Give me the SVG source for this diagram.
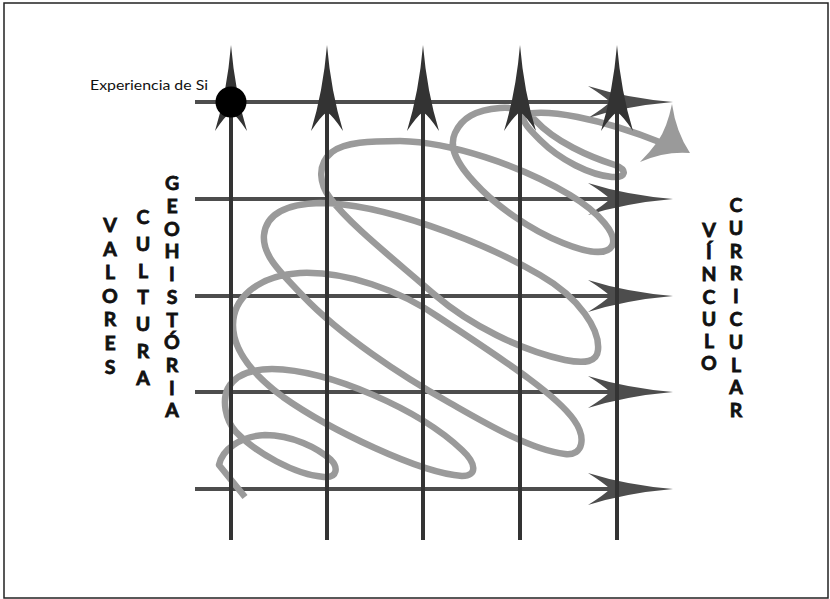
<svg xmlns="http://www.w3.org/2000/svg" width="830" height="599" viewBox="0 0 830 599">
<defs>
<style>
.hl{stroke:#4d4d4d;stroke-width:4;fill:none}
.vl{stroke:#333;stroke-width:4;fill:none}
.ha{fill:#4d4d4d}
.va{fill:#333}
.sp{stroke:#9a9a9a;stroke-width:6.5;fill:none;stroke-linejoin:round}
.spa{fill:#9a9a9a}
.lt{font-family:Lato,"Open Sans","Liberation Sans",sans-serif;font-weight:bold;font-size:19.5px;fill:#111;stroke:#111;stroke-width:0.8;text-anchor:middle}
.sm{font-family:Lato,"Open Sans","Liberation Sans",sans-serif;font-size:13.5px;fill:#111}
</style>
<path id="vh" d="M0,-57 Q-4,-10 -16,29 Q-6,14 0,10 Q6,14 16,29 Q4,-10 0,-57 Z"/>
<path id="hh" d="M61,0 Q14,-4 -24,-16 Q-8,-6 -2,0 Q-8,6 -24,16 Q14,4 61,0 Z"/>
</defs>
<rect x="4" y="3" width="824" height="595" fill="#fff" stroke="#222" stroke-width="1.5"/>

<g id="connectors">
<g id="horizontal-axes">
<line class="hl" x1="195" y1="102" x2="612" y2="102"/>
<line class="hl" x1="195" y1="199" x2="612" y2="199"/>
<line class="hl" x1="195" y1="296" x2="612" y2="296"/>
<line class="hl" x1="195" y1="392" x2="612" y2="392"/>
<line class="hl" x1="195" y1="489" x2="612" y2="489"/>
<use href="#hh" class="ha" x="612" y="102"/>
<use href="#hh" class="ha" x="612" y="199"/>
<use href="#hh" class="ha" x="612" y="296"/>
<use href="#hh" class="ha" x="612" y="392"/>
<use href="#hh" class="ha" x="612" y="489"/>
</g>

<g id="spiral">
<path class="sp" d="M245,497 L219,465
C222,450 240,436 265,435
C292,435 318,448 331,460
C338,467 338,478 324,477
C295,475 255,452 236,432
C225,420 222,400 228,388
C236,374 252,369 272,369
C330,370 420,410 462,450
C476,463 478,476 462,476
C420,473 330,430 283,397
C252,374 233,350 233,325
C233,300 255,276 300,273
C345,271 400,290 440,318
C500,358 555,393 574,420
C586,437 584,456 565,454
C530,450 480,420 450,403
C400,375 340,335 303,296
C280,272 262,255 264,235
C266,215 285,204 320,203
C380,203 480,240 540,275
C580,298 600,330 598,350
C597,362 585,364 565,360
C520,350 470,325 435,295
C395,260 350,225 330,198
C320,185 316,165 332,152
C345,142 370,141 400,141
C450,142 520,165 570,195
C600,213 618,235 612,246
C606,256 585,252 563,243
C530,230 495,205 475,183
C458,165 448,148 455,133
C462,118 475,110 500,108
C515,107 525,110 535,120
C555,142 590,157 615,165
C628,170 626,178 612,177
C590,175 560,160 540,140
C530,130 522,122 523,115
C545,108 600,118 662,143"/>
<path class="spa" d="M690,153 Q676,132 672,104 Q667,128 658,141 Q650,152 640,162 Q665,151 690,153 Z"/>
</g>

<g id="vertical-axes">
<line class="vl" x1="231" y1="540" x2="231" y2="112"/>
<line class="vl" x1="327" y1="540" x2="327" y2="112"/>
<line class="vl" x1="423" y1="540" x2="423" y2="112"/>
<line class="vl" x1="520" y1="540" x2="520" y2="112"/>
<line class="vl" x1="617" y1="540" x2="617" y2="112"/>
<use href="#vh" class="va" x="231" y="102"/>
<use href="#vh" class="va" x="327" y="102"/>
<use href="#vh" class="va" x="423" y="102"/>
<use href="#vh" class="va" x="520" y="102"/>
<use href="#vh" class="va" x="617" y="102"/>
</g>
</g>

<g id="experiencia">
<circle cx="231" cy="102" r="15.5" fill="#000"/>
<text class="sm" x="90" y="89.5" textLength="118" lengthAdjust="spacingAndGlyphs">Experiencia de Si</text>
</g>

<g id="valores">
<text class="lt"><tspan x="110" y="232">V</tspan><tspan x="110" y="255.6">A</tspan><tspan x="110" y="279.2">L</tspan><tspan x="110" y="302.8">O</tspan><tspan x="110" y="326.4">R</tspan><tspan x="110" y="350">E</tspan><tspan x="110" y="373.6">S</tspan></text>
</g>
<g id="cultura">
<text class="lt"><tspan x="143" y="223.7">C</tspan><tspan x="143" y="250.6">U</tspan><tspan x="143" y="277.5">L</tspan><tspan x="143" y="304.4">T</tspan><tspan x="143" y="331.3">U</tspan><tspan x="143" y="358.2">R</tspan><tspan x="143" y="385.1">A</tspan></text>
</g>
<g id="geohistoria">
<text class="lt"><tspan x="172" y="190.3">G</tspan><tspan x="172" y="213">E</tspan><tspan x="172" y="235.7">O</tspan><tspan x="172" y="258.4">H</tspan><tspan x="172" y="281.1">I</tspan><tspan x="172" y="303.8">S</tspan><tspan x="172" y="326.5">T</tspan><tspan x="172" y="349.2">Ó</tspan><tspan x="172" y="371.9">R</tspan><tspan x="172" y="394.6">I</tspan><tspan x="172" y="417.3">A</tspan></text>
</g>
<g id="vinculo">
<text class="lt"><tspan x="709" y="237">V</tspan><tspan x="709" y="259.2">Í</tspan><tspan x="709" y="281.4">N</tspan><tspan x="709" y="303.6">C</tspan><tspan x="709" y="325.8">U</tspan><tspan x="709" y="348">L</tspan><tspan x="709" y="370.2">O</tspan></text>
</g>
<g id="curricular">
<text class="lt"><tspan x="736" y="212">C</tspan><tspan x="736" y="234.8">U</tspan><tspan x="736" y="257.6">R</tspan><tspan x="736" y="280.4">R</tspan><tspan x="736" y="303.2">I</tspan><tspan x="736" y="326">C</tspan><tspan x="736" y="348.8">U</tspan><tspan x="736" y="371.6">L</tspan><tspan x="736" y="394.4">A</tspan><tspan x="736" y="417.2">R</tspan></text>
</g>
</svg>
